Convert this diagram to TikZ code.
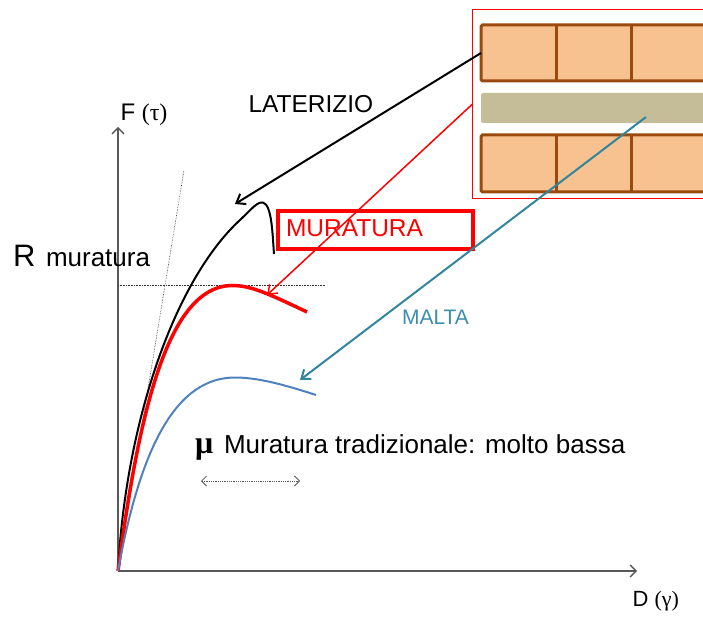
\documentclass[tikz,border=0pt]{standalone}
\usepackage{fontspec}
\setmainfont{Liberation Sans}
\newfontfamily\serifgr{Liberation Serif}
\usetikzlibrary{arrows.meta}
\definecolor{axisgray}{HTML}{595959}
\definecolor{brickfill}{HTML}{F8C190}
\definecolor{brickline}{HTML}{9A4A0C}
\definecolor{mortar}{HTML}{C5BC98}
\definecolor{curveblue}{HTML}{4F81BD}
\definecolor{teal2}{HTML}{31859C}
\definecolor{maltablue}{HTML}{3C8DB0}
\tikzset{
  lbl/.style={anchor=base west, inner sep=0pt, outer sep=0pt},
  axisline/.style={draw=axisgray, line width=1.4pt, -{Straight Barb[length=6pt,width=12pt]}},
  guide/.style={draw=black!80, line width=0.6pt, densely dotted},
  brickrow/.style={fill=brickfill, draw=brickline, line width=3pt, rounded corners=1.5pt},
  pointer/.style={line width=#1, -{Straight Barb[length=8pt,width=12pt]}},
}
\begin{document}
\begin{tikzpicture}[x=1pt,y=-1pt]
\useasboundingbox (0,0) rectangle (703,617);
\begin{scope}
\clip (0,0) rectangle (703,617);
% brick sketch
\draw[red, line width=0.9pt] (472.5,9.5) rectangle (720,198.5);
\draw[brickrow] (481,25) rectangle (725,81);
\draw[brickline, line width=3pt] (556,25) -- (556,81) (631,25) -- (631,81);
\fill[mortar, rounded corners=1.5pt] (481,93) rectangle (725,123);
\draw[brickrow] (481,135) rectangle (725,192);
\draw[brickline, line width=3pt] (556,135) -- (556,192) (631,135) -- (631,192);
\end{scope}
% named points
\coordinate (O) at (118,571);
\coordinate (Ytip) at (118,127);
\coordinate (Xtip) at (637,571);
\coordinate (latS) at (481,53);
\coordinate (latE) at (235,204);
\coordinate (murS) at (472.5,104);
\coordinate (murE) at (267,295);
\coordinate (malS) at (646,117);
\coordinate (malE) at (300,380);
\coordinate (muL) at (201,481);
\coordinate (muR) at (300,481);
\coordinate (hS) at (118,285);
\coordinate (hE) at (325,285);
\coordinate (tE) at (184,170);
% axes
\draw[axisline] (O) -- (Ytip);
\draw[axisline] (O) -- (Xtip);
% guides
\draw[guide] (hS) -- (hE);
\draw[guide] (O) -- (tE);
% curves
\draw[black, line width=2pt, line join=round]
  (O) .. controls (126,420) and (175,280) .. (240,220)
      .. controls (251,209.8) and (257,201.5) .. (263,202.5)
      .. controls (272,205) and (272.5,235) .. (274,254);
\draw[red, line width=3.5pt]
  (O) .. controls (138,420) and (166,286) .. (232,285.5)
      .. controls (250,285.5) and (265,292) .. (307,312);
\draw[curveblue, line width=2pt]
  (O) .. controls (140,450) and (175,376) .. (237,377.5)
      .. controls (260,378) and (285,385) .. (316,395);
% box
\node[draw=red, line width=4pt, anchor=north west, minimum width=195.3pt, minimum height=38.6pt, inner sep=0pt] (murbox) at (276,208.7) {};
% pointers
\draw[pointer=2pt, black] (latS) -- (latE);
\draw[pointer=1.5pt, red] (murS) -- (murE);
\draw[pointer=2pt, teal2] (malS) -- (malE);
\draw[axisgray, line width=0.8pt, densely dotted, {Straight Barb[length=5pt,width=10pt]}-{Straight Barb[length=5pt,width=10pt]}] (muL) -- (muR);
% labels
\node[lbl, font=\fontsize{24}{28}\selectfont] (Flab) at (120.5,121) {F {\serifgr(τ)}};
\node[lbl, font=\fontsize{24.5}{28}\selectfont] (latlab) at (248.5,113) {LATERIZIO};
\node[lbl, font=\fontsize{31}{34}\selectfont] (Rlab) at (13,267) {R};
\node[lbl, font=\fontsize{26}{30}\selectfont] (rmur) at (46,267) {muratura};
\node[lbl, font=\fontsize{24.5}{28}\selectfont, text=red] (murlab) at (286,237) {MURATURA};
\node[lbl, font=\fontsize{21}{25}\selectfont, text=maltablue] (maltalab) at (402,324) {MALTA};
\node[lbl, font=\fontsize{32}{36}\selectfont\serifgr\bfseries] (mulab) at (195,453) {μ};
\node[lbl, font=\fontsize{26}{30}\selectfont] (tradlab) at (224,453) {Muratura tradizionale: molto bassa};
\node[lbl, font=\fontsize{22}{26}\selectfont] (Dlab) at (632.5,606) {D {\serifgr(γ)}};
\end{tikzpicture}
\end{document}
